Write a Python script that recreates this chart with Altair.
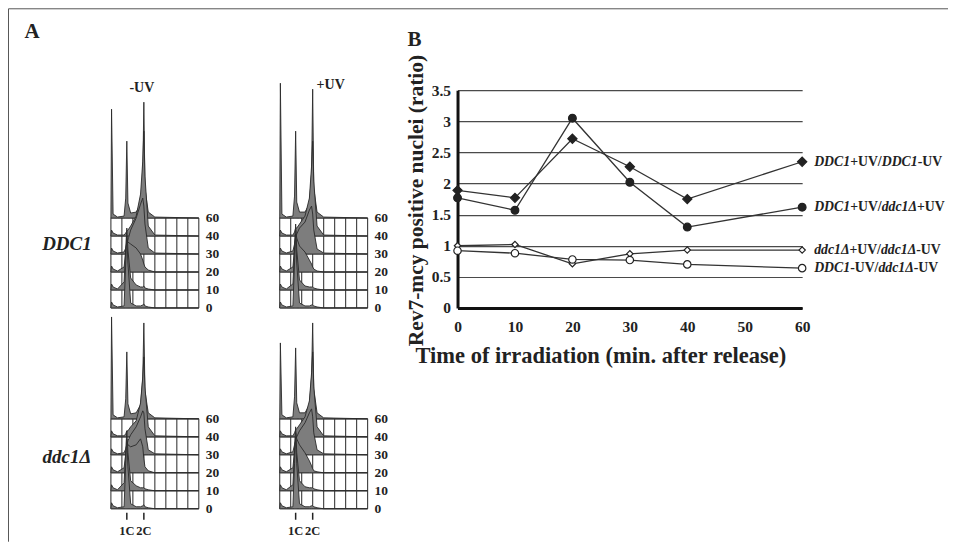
import altair as alt
import pandas as pd

SERIF = "Liberation Serif"
INK = "#222222"

# ---------------- Panel B data ----------------
times = [0, 10, 20, 30, 40, 60]
ratio_ddc1uv_ddc1 = [1.89, 1.77, 2.72, 2.27, 1.75, 2.35]
ratio_ddc1uv_ddc1duv = [1.77, 1.57, 3.05, 2.02, 1.30, 1.62]
ratio_ddc1duv_ddc1d = [1.00, 1.02, 0.71, 0.87, 0.93, 0.93]
ratio_ddc1_ddc1d = [0.92, 0.88, 0.78, 0.77, 0.70, 0.64]
series_keys = ["s1", "s2", "s3", "s4"]
series_values = [ratio_ddc1uv_ddc1, ratio_ddc1uv_ddc1duv, ratio_ddc1duv_ddc1d, ratio_ddc1_ddc1d]
x_ticks = [0, 10, 20, 30, 40, 50, 60]
y_ticks = [0, 0.5, 1, 1.5, 2, 2.5, 3, 3.5]
# label segments: (text, italic)
series_labels = [
    [("DDC1", True), ("+UV/", False), ("DDC1", True), ("-UV", False)],
    [("DDC1", True), ("+UV/", False), ("ddc1Δ", True), ("+UV", False)],
    [("ddc1Δ", True), ("+UV/", False), ("ddc1Δ", True), ("-UV", False)],
    [("DDC1", True), ("-UV/", False), ("ddc1Δ", True), ("-UV", False)],
]
x_title = "Time of irradiation (min. after release)"
y_title = "Rev7-mcy positive nuclei (ratio)"

# ---------------- Panel A data (flow cytometry, stacked by time) ----------------
row_times = [0, 10, 20, 30, 40, 60]
hist_x = [0.0, 0.06, 0.2, 0.6, 1.2, 1.35, 1.45, 1.55, 1.8, 2.3, 2.7, 2.9, 3.0, 3.1, 3.4, 4.0, 8.0]
hist_ddc1_minus = {
    0:  [0, 6, 3, 1, 2, 45, 72, 45, 5, 2, 2, 3, 4, 2, 1, 0, 0],
    10: [0, 6, 3, 1, 8, 42, 62, 40, 12, 5, 3, 3, 4, 2, 1, 0, 0],
    20: [0, 6, 3, 1, 5, 20, 32, 30, 28, 24, 18, 12, 8, 5, 2, 0, 0],
    30: [0, 6, 3, 1, 2, 6, 10, 14, 24, 36, 50, 56, 48, 30, 6, 1, 0],
    40: [0, 6, 3, 1, 1, 3, 5, 6, 10, 20, 42, 75, 105, 60, 10, 1, 0],
    60: [0, 109, 4, 1, 2, 20, 77, 15, 5, 6, 14, 40, 116, 30, 6, 1, 0],
}
hist_ddc1_plus = {
    0:  [0, 6, 3, 1, 2, 45, 74, 45, 5, 2, 2, 3, 3, 2, 1, 0, 0],
    10: [0, 6, 3, 1, 6, 42, 66, 40, 10, 4, 3, 3, 3, 2, 1, 0, 0],
    20: [0, 6, 3, 1, 5, 24, 42, 34, 26, 20, 12, 8, 5, 3, 1, 0, 0],
    30: [0, 6, 3, 1, 3, 10, 16, 20, 26, 32, 44, 48, 40, 24, 5, 1, 0],
    40: [0, 6, 3, 1, 1, 4, 8, 8, 12, 20, 38, 70, 95, 55, 10, 1, 0],
    60: [0, 135, 4, 1, 2, 22, 87, 16, 6, 6, 14, 45, 129, 30, 6, 1, 0],
}
hist_ddc1d_minus = {
    0:  [0, 6, 3, 1, 2, 45, 70, 42, 5, 2, 2, 3, 4, 2, 1, 0, 0],
    10: [0, 6, 3, 1, 8, 40, 60, 38, 10, 5, 3, 3, 3, 2, 1, 0, 0],
    20: [0, 6, 3, 1, 5, 18, 30, 28, 26, 28, 34, 26, 14, 6, 2, 0, 0],
    30: [0, 6, 3, 1, 2, 6, 10, 14, 20, 28, 38, 44, 42, 26, 5, 1, 0],
    40: [0, 6, 3, 1, 1, 3, 6, 6, 10, 16, 34, 60, 80, 50, 10, 1, 0],
    60: [0, 102, 4, 1, 2, 20, 67, 15, 5, 6, 14, 40, 96, 28, 6, 1, 0],
}
hist_ddc1d_plus = {
    0:  [0, 6, 3, 1, 2, 45, 72, 45, 5, 2, 2, 3, 3, 2, 1, 0, 0],
    10: [0, 6, 3, 1, 6, 40, 64, 38, 10, 4, 3, 3, 3, 2, 1, 0, 0],
    20: [0, 6, 3, 1, 5, 22, 40, 34, 28, 20, 12, 7, 4, 2, 1, 0, 0],
    30: [0, 6, 3, 1, 3, 10, 14, 18, 24, 32, 42, 46, 38, 22, 5, 1, 0],
    40: [0, 6, 3, 1, 1, 4, 7, 8, 12, 20, 36, 64, 85, 50, 10, 1, 0],
    60: [0, 76, 4, 1, 2, 22, 71, 16, 6, 6, 14, 42, 96, 30, 6, 1, 0],
}
ploidy_labels = ["1C", "2C"]
ploidy_pos = [1.45, 3.0]
grid_cols = list(range(9))

# ---------------- layout / style constants ----------------
COL_PX = 11     # pixels per histogram grid column
ROW_STEP = 18   # vertical offset between stacked histograms
TOP_H = 218
BOT_H = 194
NO_FRAME = alt.ViewBackground(stroke="transparent", strokeWidth=0)


def txt_layer(text, x, y, size, italic=False, align="center"):
    return alt.Chart(pd.DataFrame({"t": [text]})).mark_text(
        font=SERIF, fontSize=size, fontWeight="bold",
        fontStyle="italic" if italic else "normal",
        color=INK, align=align, baseline="middle",
    ).encode(text="t:N", x=alt.value(x), y=alt.value(y))


def hist_panel(counts, width, height, texts, ploidy=False, border=False):
    xs = alt.Scale(domain=[0, width / COL_PX], nice=False, zero=False)
    ys = alt.Scale(domain=[0, height], nice=False, zero=False)
    ncol = grid_cols[-1]
    offsets = [i * ROW_STEP for i in range(len(row_times))]
    top = offsets[-1]
    layers = []
    hdf = pd.DataFrame({"y": offsets, "x": 0, "x2": ncol,
                        "lab": [str(t) for t in row_times]})
    vdf = pd.DataFrame({"x": grid_cols, "y": 0, "y2": top})
    layers.append(alt.Chart(hdf).mark_rule(color="#3a3a3a", strokeWidth=1.1).encode(
        x=alt.X("x:Q", scale=xs, axis=None), x2="x2:Q",
        y=alt.Y("y:Q", scale=ys, axis=None)))
    layers.append(alt.Chart(vdf).mark_rule(color="#3a3a3a", strokeWidth=1.1).encode(
        x=alt.X("x:Q", scale=xs, axis=None),
        y=alt.Y("y:Q", scale=ys, axis=None), y2="y2:Q"))
    # histograms, back (latest time) to front (time 0)
    for i in reversed(range(len(row_times))):
        t = row_times[i]
        df = pd.DataFrame({"x": hist_x,
                           "base": offsets[i],
                           "top": [offsets[i] + c for c in counts[t]]})
        layers.append(alt.Chart(df).mark_area(
            fill="#7d7d7d", stroke="#2a2a2a", strokeWidth=0.9, opacity=1,
            interpolate="linear").encode(
            x=alt.X("x:Q", scale=xs, axis=None),
            y=alt.Y("top:Q", scale=ys, axis=None), y2="base:Q"))
    # time labels on the right
    layers.append(alt.Chart(hdf).mark_text(
        font=SERIF, fontSize=13.5, fontWeight="bold", color=INK,
        align="left", baseline="middle", dx=7).encode(
        x=alt.value(ncol * COL_PX), y=alt.Y("y:Q", scale=ys, axis=None), text="lab:N"))
    if ploidy:
        pdf = pd.DataFrame({"x": ploidy_pos, "lab": ploidy_labels})
        layers.append(alt.Chart(pdf).mark_rule(color=INK, strokeWidth=1.5).encode(
            x=alt.X("x:Q", scale=xs, axis=None),
            y=alt.value(height + 4), y2=alt.value(height + 11)))
        layers.append(alt.Chart(pdf).mark_text(
            font=SERIF, fontSize=12.5, fontWeight="bold", color=INK,
            baseline="middle").encode(
            x=alt.X("x:Q", scale=xs, axis=None), y=alt.value(height + 22), text="lab:N"))
    if border:
        bdf = pd.DataFrame({"k": [0]})
        layers.append(alt.Chart(bdf).mark_rule(color="#555555", strokeWidth=1).encode(
            x=alt.value(-102.5), y=alt.value(-81.5), y2=alt.value(452)))
        layers.append(alt.Chart(bdf).mark_rule(color="#555555", strokeWidth=1).encode(
            x=alt.value(-102.5), x2=alt.value(838), y=alt.value(-81.5)))
    for (s, x, y, size, it) in texts:
        layers.append(txt_layer(s, x, y, size, it))
    return alt.layer(*layers).properties(width=width, height=height, view=NO_FRAME)


TL = hist_panel(hist_ddc1_minus, 88, TOP_H,
                [("-UV", 31, -2, 14, False), ("DDC1", -44, 154, 19, True),
                 ("A", -79, -58, 21, False)], border=True)
TR = hist_panel(hist_ddc1_plus, 97, TOP_H, [("+UV", 51, -5, 14, False)])
BL = hist_panel(hist_ddc1d_minus, 88, BOT_H,
                [("ddc1Δ", -44, 142, 19, True)], ploidy=True)
BR = hist_panel(hist_ddc1d_plus, 97, BOT_H, [], ploidy=True)

# ---------------- Panel B chart ----------------
rows = []
for k, vals in zip(series_keys, series_values):
    for t, v in zip(times, vals):
        rows.append({"series": k, "time": t, "value": v})
dfB = pd.DataFrame(rows)

xB = alt.Scale(domain=[0, 60], nice=False, zero=False)
yB = alt.Scale(domain=[0, 3.5], nice=False)
axis_x = alt.Axis(values=x_ticks, grid=False, ticks=False, domainWidth=3, domainColor="#111111",
                  labelFont=SERIF, labelFontSize=15.5, labelFontWeight="bold", labelColor=INK,
                  labelPadding=12, labelFlush=False, title=x_title, titleFont=SERIF,
                  titleFontSize=22.5, titleFontWeight="bold", titleColor=INK,
                  titleX=143, titleY=48, titleBaseline="middle")
axis_y = alt.Axis(values=y_ticks, grid=True, gridColor="#4a4a4a", gridWidth=1.2, ticks=False,
                  domainWidth=3, domainColor="#111111", labelExpr="'' + datum.value",
                  labelFont=SERIF, labelFontSize=15.5, labelFontWeight="bold", labelColor=INK,
                  labelPadding=7, labelFlush=False, title=y_title, titleFont=SERIF,
                  titleFontSize=21.5, titleFontWeight="bold", titleColor=INK,
                  titleX=-30, titleY=110)


def bx():
    return alt.X("time:Q", scale=xB, axis=axis_x)


def by():
    return alt.Y("value:Q", scale=yB, axis=axis_y)


b_layers = [alt.Chart(dfB).mark_line(color="#333333", strokeWidth=1.3).encode(
    x=bx(), y=by(), detail="series:N")]

marker_styles = {
    "s1": dict(shape="diamond", fill=INK, size=85),
    "s2": dict(shape="circle", fill=INK, size=60),
    "s3": dict(shape="diamond", fill="white", size=40),
    "s4": dict(shape="circle", fill="white", size=55),
}
for k in series_keys:
    st = marker_styles[k]
    b_layers.append(alt.Chart(dfB).transform_filter(alt.datum.series == k).mark_point(
        shape=st["shape"], filled=True, fill=st["fill"], stroke=INK, strokeWidth=1.2,
        size=st["size"], opacity=1).encode(x=bx(), y=by()))

# end-of-line labels with mixed italic segments
W_BOLD = {'D': .722, 'C': .722, '1': .5, '+': .57, 'U': .722, 'V': .722, '/': .278,
          '-': .333, 'd': .556, 'c': .444, 'Δ': .612}
W_BOLD_IT = {'D': .722, 'C': .667, '1': .5, 'd': .5, 'c': .444, 'Δ': .612}
LAB_FS = 13.8
for k, vals, parts in zip(series_keys, series_values, series_labels):
    ldf = pd.DataFrame({"time": [times[-1]], "value": [vals[-1]]})
    off = 12.0
    for seg, it in parts:
        table = W_BOLD_IT if it else W_BOLD
        b_layers.append(alt.Chart(ldf).mark_text(
            text=seg, font=SERIF, fontSize=LAB_FS, fontWeight="bold",
            fontStyle="italic" if it else "normal", color=INK,
            align="left", baseline="middle", dx=off).encode(x=bx(), y=by()))
        off += sum(table.get(ch, 0.55) for ch in seg) * LAB_FS

b_layers.append(txt_layer("B", -43, -50, 21))
B = alt.layer(*b_layers).properties(width=345, height=TOP_H, view=NO_FRAME)

chart = alt.concat(TL, TR, B, BL, BR, columns=3,
                   spacing=alt.RowColnumber(row=7, column=81),
                   bounds="flush").properties(padding=0).configure_view(
    strokeWidth=0, stroke="transparent").configure(background="white")

chart.save("out.html", embed_options={"renderer": "svg", "actions": False})
